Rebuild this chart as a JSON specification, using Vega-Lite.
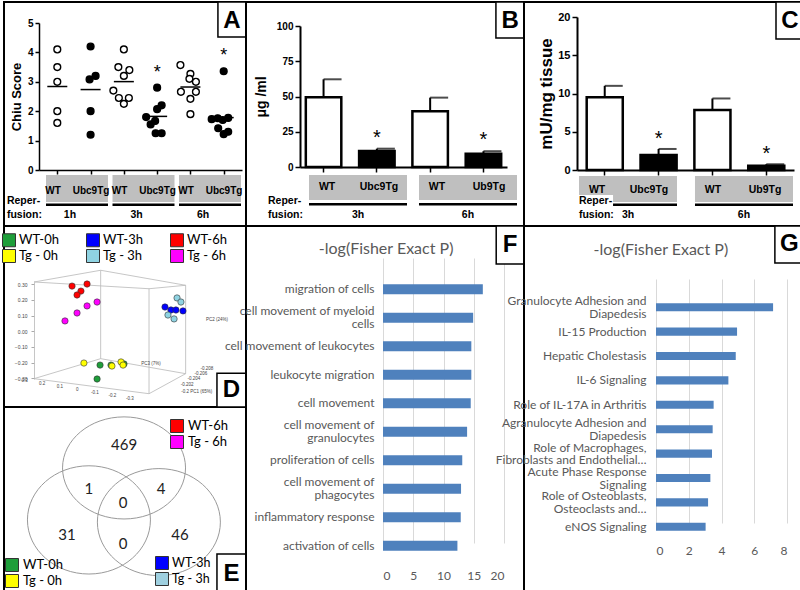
{
"$schema":"https://vega.github.io/schema/vega-lite/v6.json",
"padding":0,
"background":"white",
"columns":3,
"spacing":0,
"bounds":"flush",
"config":{
 "view":{"stroke":"black","strokeWidth":2,"fill":"white"},
 "font":"Liberation Sans",
 "axis":{"grid":false,"domainColor":"black","tickColor":"black","labelColor":"black","labelFont":"Liberation Sans","labelFontWeight":"bold","labelFontSize":10,"titleFont":"Liberation Sans","titleFontWeight":"bold","titleColor":"black","domainWidth":1.5,"tickWidth":1.5},
 "legend":{"padding":0,"offset":0},
 "text":{"font":"Liberation Sans","color":"black"}
},
"concat":[
{
 "width":242,"height":224,
 "resolve":{"scale":{"x":"independent","y":"independent"}},
 "layer":[
  {
   "data":{"values":[
    {"c":"1h WT","g":"WT","s":4.1,"j":0},{"c":"1h WT","g":"WT","s":3.5,"j":0},{"c":"1h WT","g":"WT","s":3.0,"j":0},{"c":"1h WT","g":"WT","s":2.0,"j":0},{"c":"1h WT","g":"WT","s":1.6,"j":0},
    {"c":"1h Ubc9Tg","g":"Tg","s":4.2,"j":0},{"c":"1h Ubc9Tg","g":"Tg","s":3.2,"j":0.5},{"c":"1h Ubc9Tg","g":"Tg","s":3.08,"j":-0.1},{"c":"1h Ubc9Tg","g":"Tg","s":2.0,"j":0},{"c":"1h Ubc9Tg","g":"Tg","s":1.2,"j":0},
    {"c":"3h WT","g":"WT","s":4.1,"j":0},{"c":"3h WT","g":"WT","s":3.5,"j":-0.55},{"c":"3h WT","g":"WT","s":3.4,"j":0.55},{"c":"3h WT","g":"WT","s":3.2,"j":0},{"c":"3h WT","g":"WT","s":2.7,"j":-1.05},{"c":"3h WT","g":"WT","s":2.45,"j":-0.5},{"c":"3h WT","g":"WT","s":2.45,"j":0.5},{"c":"3h WT","g":"WT","s":2.25,"j":0},
    {"c":"3h Ubc9Tg","g":"Tg","s":2.8,"j":0,"sig":"*"},{"c":"3h Ubc9Tg","g":"Tg","s":2.2,"j":0.45,"sig":"*"},{"c":"3h Ubc9Tg","g":"Tg","s":2.07,"j":0,"sig":"*"},{"c":"3h Ubc9Tg","g":"Tg","s":1.8,"j":-1.1,"sig":"*"},{"c":"3h Ubc9Tg","g":"Tg","s":1.67,"j":-0.2,"sig":"*"},{"c":"3h Ubc9Tg","g":"Tg","s":1.55,"j":-0.65,"sig":"*"},{"c":"3h Ubc9Tg","g":"Tg","s":1.25,"j":-0.15,"sig":"*"},{"c":"3h Ubc9Tg","g":"Tg","s":1.25,"j":0.45,"sig":"*"},
    {"c":"6h WT","g":"WT","s":3.57,"j":-1.0},{"c":"6h WT","g":"WT","s":3.27,"j":0},{"c":"6h WT","g":"WT","s":3.1,"j":-0.1},{"c":"6h WT","g":"WT","s":3.0,"j":0.55},{"c":"6h WT","g":"WT","s":2.66,"j":-0.95},{"c":"6h WT","g":"WT","s":2.66,"j":0.55},{"c":"6h WT","g":"WT","s":2.42,"j":0},{"c":"6h WT","g":"WT","s":1.9,"j":0},
    {"c":"6h Ubc9Tg","g":"Tg","s":3.36,"j":0,"sig":"*"},{"c":"6h Ubc9Tg","g":"Tg","s":1.73,"j":-1.2,"sig":"*"},{"c":"6h Ubc9Tg","g":"Tg","s":1.76,"j":-0.6,"sig":"*"},{"c":"6h Ubc9Tg","g":"Tg","s":1.7,"j":-0.1,"sig":"*"},{"c":"6h Ubc9Tg","g":"Tg","s":1.77,"j":0.45,"sig":"*"},{"c":"6h Ubc9Tg","g":"Tg","s":1.42,"j":-0.55,"sig":"*"},{"c":"6h Ubc9Tg","g":"Tg","s":1.22,"j":0,"sig":"*"},{"c":"6h Ubc9Tg","g":"Tg","s":1.3,"j":0.45,"sig":"*"}
   ]},
   "layer":[
    {"mark":{"type":"circle","size":46,"stroke":"black","strokeWidth":1.4,"opacity":1},
     "encoding":{
      "x":{"field":"c","type":"nominal","scale":{"type":"point","domain":["1h WT","1h Ubc9Tg","3h WT","3h Ubc9Tg","6h WT","6h Ubc9Tg"],"range":[35,238],"padding":0.55},"axis":{"orient":"bottom","offset":-56,"labels":false,"title":null,"tickSize":4}},
      "xOffset":{"field":"j","type":"quantitative","scale":{"domain":[-1,1],"range":[-10,10]}},
      "y":{"field":"s","type":"quantitative","scale":{"domain":[0,5],"range":[168,21],"nice":false,"zero":false},"axis":{"orient":"left","offset":-35,"values":[0,1,2,3,4,5],"tickSize":4,"labelPadding":2,"title":"Chiu Score","titleFontSize":13,"titlePadding":4}},
      "fill":{"field":"g","type":"nominal","scale":{"domain":["WT","Tg"],"range":["white","black"]},"legend":null}
     }},
    {"mark":{"type":"tick","size":20,"thickness":1.5,"color":"black"},
     "encoding":{"x":{"field":"c","type":"nominal"},"y":{"aggregate":"mean","field":"s","type":"quantitative"}}},
    {"transform":[{"filter":"datum.sig == '*'"}],
     "mark":{"type":"text","fontSize":18,"baseline":"middle","yOffset":-15},
     "encoding":{"x":{"field":"c","type":"nominal"},"y":{"aggregate":"max","field":"s","type":"quantitative"},"text":{"field":"sig"}}}
   ]
  },
  {
   "data":{"values":[{"t":"1h","g":"WT","lab":"WT"},{"t":"1h","g":"Tg","lab":"Ubc9Tg"},{"t":"3h","g":"WT","lab":"WT"},{"t":"3h","g":"Tg","lab":"Ubc9Tg"},{"t":"6h","g":"WT","lab":"WT"},{"t":"6h","g":"Tg","lab":"Ubc9Tg"}]},
   "layer":[
    {"transform":[{"filter":"datum.g == 'WT'"}],"mark":{"type":"rect","color":"#bfbfbf"},"encoding":{"x":{"field":"t","type":"nominal","bandPosition":0,"scale":{"type":"band","domain":["1h","3h","6h"],"range":[42,237],"paddingInner":0.068,"paddingOuter":0},"axis":null},"x2":{"field":"t","bandPosition":1},"y":{"datum":0.772,"type":"quantitative","scale":{"domain":[0,1],"range":[0,224]},"axis":null},"y2":{"datum":0.893}}},
    {"transform":[{"filter":"datum.g == 'WT'"}],"mark":{"type":"rect","color":"black"},"encoding":{"x":{"field":"t","type":"nominal","bandPosition":0},"x2":{"field":"t","bandPosition":1},"y":{"datum":0.899,"type":"quantitative"},"y2":{"datum":0.911}}},
    {"transform":[{"filter":"datum.g == 'WT'"}],"mark":{"type":"text","fontWeight":"bold","fontSize":10.5,"dx":-7},"encoding":{"x":{"field":"t","type":"nominal"},"y":{"datum":0.951,"type":"quantitative"},"text":{"field":"t"}}},
    {"transform":[{"filter":"datum.g == 'WT'"}],"mark":{"type":"text","fontWeight":"bold","fontSize":10},"encoding":{"x":{"field":"t","type":"nominal","bandPosition":0.113},"y":{"datum":0.844,"type":"quantitative"},"text":{"field":"lab"}}},
    {"transform":[{"filter":"datum.g == 'Tg'"}],"mark":{"type":"text","fontWeight":"bold","fontSize":10},"encoding":{"x":{"field":"t","type":"nominal","bandPosition":0.726},"y":{"datum":0.844,"type":"quantitative"},"text":{"field":"lab"}}}
   ]
  },
  {
   "data":{"values":[{}]},
   "layer":[
    {"mark":{"type":"text","text":"Reper-","align":"left","fontWeight":"bold","fontSize":10.5},"encoding":{"x":{"datum":0.012,"type":"quantitative","scale":{"domain":[0,1],"range":[0,242]},"axis":null},"y":{"datum":0.888,"type":"quantitative","scale":{"domain":[0,1],"range":[0,224]},"axis":null}}},
    {"mark":{"type":"text","text":"fusion:","align":"left","fontWeight":"bold","fontSize":10.5},"encoding":{"x":{"datum":0.012,"type":"quantitative"},"y":{"datum":0.951,"type":"quantitative"}}},
    {"mark":{"type":"rect","fill":"white","stroke":"black","strokeWidth":1.5},"encoding":{"x":{"datum":0.884,"type":"quantitative"},"x2":{"datum":1},"y":{"datum":0,"type":"quantitative"},"y2":{"datum":0.156}}},
    {"mark":{"type":"text","text":"A","fontWeight":"bold","fontSize":24},"encoding":{"x":{"datum":0.942,"type":"quantitative"},"y":{"datum":0.085,"type":"quantitative"}}}
   ]
  }
 ]
},
{
 "width":278,"height":224,
 "resolve":{"scale":{"x":"independent","y":"independent"}},
 "layer":[
  {
   "data":{"values":[
    {"c":"3h WT","g":"WT","v":49.5,"hi":62.2},
    {"c":"3h Ubc9Tg","g":"Tg","v":11.3,"hi":13,"sig":"*"},
    {"c":"6h WT","g":"WT","v":39.5,"hi":49.2},
    {"c":"6h Ub9Tg","g":"Tg","v":9.4,"hi":11.2,"sig":"*"}
   ]},
   "layer":[
    {"mark":{"type":"rule","strokeWidth":2,"color":"black"},"encoding":{
      "x":{"field":"c","type":"nominal","scale":{"type":"band","domain":["3h WT","3h Ubc9Tg","6h WT","6h Ub9Tg"],"range":[54,261],"paddingInner":0.334,"paddingOuter":0.109},"axis":{"orient":"bottom","offset":-59,"labels":false,"title":null,"tickSize":5,"domainWidth":2}},
      "y":{"field":"v","type":"quantitative","scale":{"domain":[0,100],"range":[165,24],"nice":false,"zero":false},"axis":{"orient":"left","offset":-54,"values":[0,25,50,75,100],"tickSize":5,"labelPadding":2,"title":"μg /ml","titleFontSize":14,"titlePadding":8,"domainWidth":2}},
      "y2":{"field":"hi"}}},
    {"mark":{"type":"tick","size":18,"thickness":2,"color":"black","xOffset":9},"encoding":{"x":{"field":"c","type":"nominal"},"y":{"field":"hi","type":"quantitative"}}},
    {"mark":{"type":"rect","stroke":"black","strokeWidth":2.5},"encoding":{"x":{"field":"c","type":"nominal","bandPosition":0},"x2":{"field":"c","bandPosition":1},"y":{"field":"v","type":"quantitative"},"y2":{"datum":0},
      "fill":{"field":"g","type":"nominal","scale":{"domain":["WT","Tg"],"range":["white","black"]},"legend":null}}},
    {"transform":[{"filter":"datum.sig == '*'"}],"mark":{"type":"text","fontSize":20,"yOffset":-11},"encoding":{"x":{"field":"c","type":"nominal"},"y":{"field":"hi","type":"quantitative"},"text":{"field":"sig"}}}
   ]
  },
  {
   "data":{"values":[{"t":"3h","g":"WT","lab":"WT"},{"t":"3h","g":"Tg","lab":"Ubc9Tg"},{"t":"6h","g":"WT","lab":"WT"},{"t":"6h","g":"Tg","lab":"Ub9Tg"}]},
   "layer":[
    {"transform":[{"filter":"datum.g == 'WT'"}],"mark":{"type":"rect","color":"#bfbfbf"},"encoding":{"x":{"field":"t","type":"nominal","bandPosition":0,"scale":{"type":"band","domain":["3h","6h"],"range":[63,271],"paddingInner":0.109,"paddingOuter":0},"axis":null},"x2":{"field":"t","bandPosition":1},"y":{"datum":0.772,"type":"quantitative","scale":{"domain":[0,1],"range":[0,224]},"axis":null},"y2":{"datum":0.884}}},
    {"transform":[{"filter":"datum.g == 'WT'"}],"mark":{"type":"rect","color":"black"},"encoding":{"x":{"field":"t","type":"nominal","bandPosition":0},"x2":{"field":"t","bandPosition":1},"y":{"datum":0.897,"type":"quantitative"},"y2":{"datum":0.908}}},
    {"transform":[{"filter":"datum.g == 'WT'"}],"mark":{"type":"text","fontWeight":"bold","fontSize":10.5},"encoding":{"x":{"field":"t","type":"nominal"},"y":{"datum":0.951,"type":"quantitative"},"text":{"field":"t"}}},
    {"transform":[{"filter":"datum.g == 'WT'"}],"mark":{"type":"text","fontWeight":"bold","fontSize":10.5},"encoding":{"x":{"field":"t","type":"nominal","bandPosition":0.184},"y":{"datum":0.826,"type":"quantitative"},"text":{"field":"lab"}}},
    {"transform":[{"filter":"datum.g == 'Tg'"}],"mark":{"type":"text","fontWeight":"bold","fontSize":10.5},"encoding":{"x":{"field":"t","type":"nominal","bandPosition":0.714},"y":{"datum":0.826,"type":"quantitative"},"text":{"field":"lab"}}}
   ]
  },
  {
   "data":{"values":[{}]},
   "layer":[
    {"mark":{"type":"text","text":"Reper-","align":"left","fontWeight":"bold","fontSize":10.5},"encoding":{"x":{"datum":0.079,"type":"quantitative","scale":{"domain":[0,1],"range":[0,278]},"axis":null},"y":{"datum":0.888,"type":"quantitative","scale":{"domain":[0,1],"range":[0,224]},"axis":null}}},
    {"mark":{"type":"text","text":"fusion:","align":"left","fontWeight":"bold","fontSize":10.5},"encoding":{"x":{"datum":0.079,"type":"quantitative"},"y":{"datum":0.951,"type":"quantitative"}}},
    {"mark":{"type":"rect","fill":"white","stroke":"black","strokeWidth":1.5},"encoding":{"x":{"datum":0.899,"type":"quantitative"},"x2":{"datum":1},"y":{"datum":0,"type":"quantitative"},"y2":{"datum":0.161}}},
    {"mark":{"type":"text","text":"B","fontWeight":"bold","fontSize":24},"encoding":{"x":{"datum":0.95,"type":"quantitative"},"y":{"datum":0.085,"type":"quantitative"}}}
   ]
  }
 ]
},
{
 "width":280,"height":224,
 "resolve":{"scale":{"x":"independent","y":"independent"}},
 "layer":[
  {
   "data":{"values":[
    {"c":"3h WT","g":"WT","v":9.5,"hi":11.0},
    {"c":"3h Ubc9Tg","g":"Tg","v":1.95,"hi":2.75,"sig":"*"},
    {"c":"6h WT","g":"WT","v":7.85,"hi":9.35},
    {"c":"6h Ub9Tg","g":"Tg","v":0.57,"hi":0.75,"sig":"*"}
   ]},
   "layer":[
    {"mark":{"type":"rule","strokeWidth":2,"color":"black"},"encoding":{
      "x":{"field":"c","type":"nominal","scale":{"type":"band","domain":["3h WT","3h Ubc9Tg","6h WT","6h Ub9Tg"],"range":[53,270],"paddingInner":0.33,"paddingOuter":0.18},"axis":{"orient":"bottom","offset":-56,"labels":false,"title":null,"tickSize":5,"domainWidth":2}},
      "y":{"field":"v","type":"quantitative","scale":{"domain":[0,20],"range":[168,15],"nice":false,"zero":false},"axis":{"orient":"left","offset":-53,"values":[0,5,10,15,20],"tickSize":5,"labelPadding":2,"labelFontSize":11,"title":"mU/mg tissue","titleFontSize":17,"titlePadding":2,"domainWidth":2}},
      "y2":{"field":"hi"}}},
    {"mark":{"type":"tick","size":18,"thickness":2,"color":"black","xOffset":9},"encoding":{"x":{"field":"c","type":"nominal"},"y":{"field":"hi","type":"quantitative"}}},
    {"mark":{"type":"rect","stroke":"black","strokeWidth":2.5},"encoding":{"x":{"field":"c","type":"nominal","bandPosition":0},"x2":{"field":"c","bandPosition":1},"y":{"field":"v","type":"quantitative"},"y2":{"datum":0},
      "fill":{"field":"g","type":"nominal","scale":{"domain":["WT","Tg"],"range":["white","black"]},"legend":null}}},
    {"transform":[{"filter":"datum.sig == '*'"}],"mark":{"type":"text","fontSize":20,"yOffset":-10},"encoding":{"x":{"field":"c","type":"nominal"},"y":{"field":"hi","type":"quantitative"},"text":{"field":"sig"}}}
   ]
  },
  {
   "data":{"values":[{"t":"3h","g":"WT","lab":"WT"},{"t":"3h","g":"Tg","lab":"Ubc9Tg"},{"t":"6h","g":"WT","lab":"WT"},{"t":"6h","g":"Tg","lab":"Ub9Tg"}]},
   "layer":[
    {"transform":[{"filter":"datum.g == 'WT'"}],"mark":{"type":"rect","color":"#bfbfbf"},"encoding":{"x":{"field":"t","type":"nominal","bandPosition":0,"scale":{"type":"band","domain":["3h","6h"],"range":[55,269],"paddingInner":0.155,"paddingOuter":0},"axis":null},"x2":{"field":"t","bandPosition":1},"y":{"datum":0.777,"type":"quantitative","scale":{"domain":[0,1],"range":[0,224]},"axis":null},"y2":{"datum":0.893}}},
    {"transform":[{"filter":"datum.g == 'WT'"}],"mark":{"type":"rect","color":"black"},"encoding":{"x":{"field":"t","type":"nominal","bandPosition":0},"x2":{"field":"t","bandPosition":1},"y":{"datum":0.9,"type":"quantitative"},"y2":{"datum":0.911}}},
    {"transform":[{"filter":"datum.g == 'WT'"}],"mark":{"type":"text","fontWeight":"bold","fontSize":10.5},"encoding":{"x":{"field":"t","type":"nominal"},"y":{"datum":0.951,"type":"quantitative"},"text":{"field":"t"}}},
    {"transform":[{"filter":"datum.g == 'WT'"}],"mark":{"type":"text","fontWeight":"bold","fontSize":10.5},"encoding":{"x":{"field":"t","type":"nominal","bandPosition":0.184},"y":{"datum":0.84,"type":"quantitative"},"text":{"field":"lab"}}},
    {"transform":[{"filter":"datum.g == 'Tg'"}],"mark":{"type":"text","fontWeight":"bold","fontSize":10.5},"encoding":{"x":{"field":"t","type":"nominal","bandPosition":0.714},"y":{"datum":0.84,"type":"quantitative"},"text":{"field":"lab"}}}
   ]
  },
  {
   "data":{"values":[{}]},
   "layer":[
    {"mark":{"type":"rect","fill":"white"},"encoding":{"x":{"datum":0.193,"type":"quantitative","scale":{"domain":[0,1],"range":[0,280]},"axis":null},"x2":{"datum":0.318},"y":{"datum":0.862,"type":"quantitative","scale":{"domain":[0,1],"range":[0,224]},"axis":null},"y2":{"datum":0.92}}},
    {"mark":{"type":"text","text":"Reper-","align":"left","fontWeight":"bold","fontSize":10.5},"encoding":{"x":{"datum":0.196,"type":"quantitative"},"y":{"datum":0.888,"type":"quantitative"}}},
    {"mark":{"type":"text","text":"fusion:","align":"left","fontWeight":"bold","fontSize":10.5},"encoding":{"x":{"datum":0.196,"type":"quantitative"},"y":{"datum":0.951,"type":"quantitative"}}},
    {"mark":{"type":"rect","fill":"white","stroke":"black","strokeWidth":1.5},"encoding":{"x":{"datum":0.9,"type":"quantitative"},"x2":{"datum":1},"y":{"datum":0,"type":"quantitative"},"y2":{"datum":0.165}}},
    {"mark":{"type":"text","text":"C","fontWeight":"bold","fontSize":24},"encoding":{"x":{"datum":0.95,"type":"quantitative"},"y":{"datum":0.085,"type":"quantitative"}}}
   ]
  }
 ]
},
{
 "width":242,"height":366,
 "resolve":{"scale":{"x":"independent","y":"independent","color":"independent"}},
 "layer":[
  {
   "layer":[
    {"data":{"values":[
      {"u":0,"v":0.315,"u2":0.426,"v2":0.39},
      {"u":0.426,"v":0.39,"u2":0.969,"v2":0.294},
      {"u":0.969,"v":0.294,"u2":0.735,"v2":0.272},
      {"u":0.735,"v":0.272,"u2":0,"v2":0.315},
      {"u":0,"v":-0.303,"u2":0.426,"v2":-0.175},
      {"u":0.426,"v":-0.175,"u2":0.969,"v2":-0.271},
      {"u":0.969,"v":-0.271,"u2":0.735,"v2":-0.399},
      {"u":0.735,"v":-0.399,"u2":0,"v2":-0.303},
      {"u":0.426,"v":0.39,"u2":0.426,"v2":-0.175},
      {"u":0.969,"v":0.294,"u2":0.969,"v2":-0.271},
      {"u":0.735,"v":0.272,"u2":0.735,"v2":-0.399}
     ]},
     "mark":{"type":"rule","color":"#b8b8b8","strokeWidth":0.8},
     "encoding":{
      "x":{"field":"u","type":"quantitative","scale":{"domain":[0,1.5],"range":[30,264.75],"nice":false,"zero":false},"axis":null},
      "y":{"field":"v","type":"quantitative","scale":{"domain":[-0.305,0.315],"range":[153,56],"nice":false,"zero":false},"axis":{"orient":"left","offset":-30,"values":[-0.3,-0.2,-0.1,0,0.1,0.2,0.3],"labelFontSize":5,"labelFontWeight":"normal","labelColor":"#444","tickSize":3,"tickColor":"#aaa","domainColor":"#b8b8b8","domainWidth":0.8,"tickWidth":1,"title":null,"labelPadding":4}},
      "x2":{"field":"u2"},"y2":{"field":"v2"}
     }},
    {"data":{"values":[
      {"t":"PC2 (24%)","u":1.17,"v":0.07},
      {"t":"PC3 (7%)","u":0.747,"v":-0.209},
      {"t":"0.3","u":-0.06,"v":-0.318},{"t":"0.2","u":0.052,"v":-0.337},{"t":"0.1","u":0.165,"v":-0.356},{"t":"0","u":0.277,"v":-0.375},{"t":"-0.1","u":0.389,"v":-0.393},{"t":"-0.2","u":0.501,"v":-0.412},{"t":"-0.3","u":0.613,"v":-0.431},
      {"t":"-0.208","u":1.105,"v":-0.239},{"t":"-0.206","u":1.067,"v":-0.271},{"t":"-0.204","u":1.022,"v":-0.303},{"t":"-0.202","u":0.978,"v":-0.345},{"t":"-0.2  PC1 (65%)","u":1.04,"v":-0.388}
     ]},
     "mark":{"type":"text","fontSize":4.5,"color":"#444","font":"Liberation Sans"},
     "encoding":{"x":{"field":"u","type":"quantitative"},"y":{"field":"v","type":"quantitative"},"text":{"field":"t"}}},
    {"data":{"values":[
      {"grp":"WT-6h","u":0.243,"v":0.289},{"grp":"WT-6h","u":0.339,"v":0.302},{"grp":"WT-6h","u":0.3,"v":0.257},{"grp":"WT-6h","u":0.275,"v":0.232},
      {"grp":"Tg - 6h","u":0.403,"v":0.187},{"grp":"Tg - 6h","u":0.339,"v":0.162},{"grp":"Tg - 6h","u":0.275,"v":0.117},{"grp":"Tg - 6h","u":0.198,"v":0.066},
      {"grp":"WT-3h","u":0.837,"v":0.155},{"grp":"WT-3h","u":0.875,"v":0.136},{"grp":"WT-3h","u":0.907,"v":0.136},{"grp":"WT-3h","u":0.952,"v":0.13},
      {"grp":"Tg - 3h","u":0.914,"v":0.213},{"grp":"Tg - 3h","u":0.939,"v":0.187},{"grp":"Tg - 3h","u":0.856,"v":0.104},{"grp":"Tg - 3h","u":0.895,"v":0.079},
      {"grp":"WT-0h","u":0.422,"v":-0.216},{"grp":"WT-0h","u":0.492,"v":-0.216},{"grp":"WT-0h","u":0.403,"v":-0.305},{"grp":"WT-0h","u":0.575,"v":-0.209},
      {"grp":"Tg - 0h","u":0.319,"v":-0.203},{"grp":"Tg - 0h","u":0.498,"v":-0.222},{"grp":"Tg - 0h","u":0.556,"v":-0.196},{"grp":"Tg - 0h","u":0.569,"v":-0.216}
     ]},
     "mark":{"type":"circle","size":40,"stroke":"#333","strokeWidth":0.6,"opacity":1},
     "encoding":{
      "x":{"field":"u","type":"quantitative"},
      "y":{"field":"v","type":"quantitative"},
      "color":{"field":"grp","type":"nominal","scale":{"domain":["WT-0h","Tg - 0h","WT-3h","Tg - 3h","WT-6h","Tg - 6h"],"range":["#1e9e3a","#ffff00","#0000ff","#8fd3e2","#ff0000","#ff00ff"]},
       "legend":{"orient":"none","legendX":-2,"legendY":7,"columns":3,"title":null,"symbolType":"square","symbolSize":169,"symbolStrokeColor":"#333","symbolStrokeWidth":1,"symbolOpacity":1,"labelFont":"Lato","labelFontSize":13,"labelColor":"black","columnPadding":25,"rowPadding":-5,"labelOffset":3}}
     }}
   ]
  },
  {
   "layer":[
    {"data":{"values":[{}]},"mark":{"type":"rect","fillOpacity":0,"stroke":"black","strokeWidth":2},
     "encoding":{"x":{"datum":0,"type":"quantitative","scale":{"domain":[0,1],"range":[0,242]},"axis":null},"x2":{"datum":1},"y":{"datum":0.4945,"type":"quantitative","scale":{"domain":[0,1],"range":[0,366]},"axis":null},"y2":{"datum":1}}},
    {"data":{"values":[{"set":"6h","x":0.496,"y":0.661},{"set":"0h","x":0.351,"y":0.803},{"set":"3h","x":0.64,"y":0.809}]},
     "mark":{"type":"point","filled":false,"color":"#9a9a9a","strokeWidth":1,"size":15129,"opacity":1},
     "encoding":{
      "x":{"field":"x","type":"quantitative"},
      "y":{"field":"y","type":"quantitative"},
      "shape":{"field":"set","type":"nominal","scale":{"domain":["6h","0h","3h"],"range":["M-1,0A1,0.83,0,1,1,1,0A1,0.83,0,1,1,-1,0Z","M-1,0A1,0.88,0,1,1,1,0A1,0.88,0,1,1,-1,0Z","M-1,0A1,0.87,0,1,1,1,0A1,0.87,0,1,1,-1,0Z"]},"legend":null}
     }},
    {"data":{"values":[{"n":"469","x":0.496,"y":0.598},{"n":"1","x":0.351,"y":0.719},{"n":"4","x":0.649,"y":0.719},{"n":"0","x":0.492,"y":0.757},{"n":"31","x":0.26,"y":0.844},{"n":"0","x":0.492,"y":0.869},{"n":"46","x":0.727,"y":0.844}]},
     "mark":{"type":"text","font":"Lato","fontSize":15,"color":"#222"},
     "encoding":{"x":{"field":"x","type":"quantitative"},"y":{"field":"y","type":"quantitative"},"text":{"field":"n"}}},
    {"data":{"values":[{}]},"mark":{"type":"rect","fill":"white","stroke":"black","strokeWidth":1.5},
     "encoding":{"x":{"datum":0.88,"type":"quantitative"},"x2":{"datum":1},"y":{"datum":0.402,"type":"quantitative"},"y2":{"datum":0.4945}}},
    {"data":{"values":[{}]},"mark":{"type":"text","text":"D","fontWeight":"bold","fontSize":24},
     "encoding":{"x":{"datum":0.94,"type":"quantitative"},"y":{"datum":0.448,"type":"quantitative"}}},
    {"data":{"values":[{}]},"mark":{"type":"rect","fill":"white","stroke":"black","strokeWidth":1.5},
     "encoding":{"x":{"datum":0.88,"type":"quantitative"},"x2":{"datum":1},"y":{"datum":0.896,"type":"quantitative"},"y2":{"datum":1}}},
    {"data":{"values":[{}]},"mark":{"type":"text","text":"E","fontWeight":"bold","fontSize":24},
     "encoding":{"x":{"datum":0.94,"type":"quantitative"},"y":{"datum":0.951,"type":"quantitative"}}}
   ]
  },
  {"data":{"values":[{"g":"WT-6h"},{"g":"Tg - 6h"}]},
   "mark":{"type":"square","opacity":0},
   "encoding":{"x":{"datum":0.5,"type":"quantitative","axis":null},"y":{"datum":0.5,"type":"quantitative","axis":null},
    "color":{"field":"g","type":"nominal","scale":{"domain":["WT-6h","Tg - 6h"],"range":["#ff0000","#ff00ff"]},
     "legend":{"orient":"none","legendX":166,"legendY":193,"title":null,"symbolType":"square","symbolSize":169,"symbolStrokeColor":"#333","symbolStrokeWidth":1,"symbolOpacity":1,"labelFont":"Lato","labelFontSize":13,"labelColor":"black","rowPadding":-5,"labelOffset":4}}}},
  {"data":{"values":[{"g":"WT-0h"},{"g":"Tg - 0h"}]},
   "mark":{"type":"square","opacity":0},
   "encoding":{"x":{"datum":0.5,"type":"quantitative","axis":null},"y":{"datum":0.5,"type":"quantitative","axis":null},
    "color":{"field":"g","type":"nominal","scale":{"domain":["WT-0h","Tg - 0h"],"range":["#1e9e3a","#ffff00"]},
     "legend":{"orient":"none","legendX":1,"legendY":332,"title":null,"symbolType":"square","symbolSize":169,"symbolStrokeColor":"#333","symbolStrokeWidth":1,"symbolOpacity":1,"labelFont":"Lato","labelFontSize":13,"labelColor":"black","rowPadding":-5,"labelOffset":4}}}},
  {"data":{"values":[{"g":"WT-3h"},{"g":"Tg - 3h"}]},
   "mark":{"type":"square","opacity":0},
   "encoding":{"x":{"datum":0.5,"type":"quantitative","axis":null},"y":{"datum":0.5,"type":"quantitative","axis":null},
    "color":{"field":"g","type":"nominal","scale":{"domain":["WT-3h","Tg - 3h"],"range":["#0000ff","#9fd0e0"]},
     "legend":{"orient":"none","legendX":151,"legendY":330,"title":null,"symbolType":"square","symbolSize":169,"symbolStrokeColor":"#333","symbolStrokeWidth":1,"symbolOpacity":1,"labelFont":"Lato","labelFontSize":12.5,"labelColor":"black","rowPadding":-5,"labelOffset":3}}}}
 ]
},
{
 "width":278,"height":366,
 "resolve":{"scale":{"x":"independent","y":"independent"}},
 "layer":[
  {
   "data":{"values":[
    {"term":"migration of cells","v":16.5},
    {"term":"cell movement of myeloid|cells","v":14.9},
    {"term":"cell movement of leukocytes","v":14.6},
    {"term":"leukocyte migration","v":14.6},
    {"term":"cell movement","v":14.5},
    {"term":"cell movement of|granulocytes","v":13.9},
    {"term":"proliferation of cells","v":13.1},
    {"term":"cell movement of|phagocytes","v":12.9},
    {"term":"inflammatory response","v":12.85},
    {"term":"activation of cells","v":12.3}
   ]},
   "mark":{"type":"bar","color":"#4f81bd"},
   "encoding":{
    "x":{"field":"v","type":"quantitative","scale":{"domain":[0,20],"range":[137,258],"nice":false,"zero":false},"axis":{"orient":"bottom","offset":-32,"values":[0,5,10,15,20],"grid":true,"gridColor":"#d9d9d9","gridWidth":1,"domain":false,"ticks":false,"labelFont":"Lato","labelFontWeight":"normal","labelFontSize":12,"labelColor":"#595959","labelPadding":10,"title":null}},
    "y":{"field":"term","type":"nominal","sort":null,"scale":{"domain":["migration of cells","cell movement of myeloid|cells","cell movement of leukocytes","leukocyte migration","cell movement","cell movement of|granulocytes","proliferation of cells","cell movement of|phagocytes","inflammatory response","activation of cells"],"range":[49,334],"paddingInner":0.65,"paddingOuter":0.325},"axis":{"orient":"left","offset":-137,"domain":false,"ticks":false,"labelFont":"Lato","labelFontWeight":"normal","labelFontSize":12,"labelColor":"#595959","labelPadding":9,"labelExpr":"split(datum.label, '|')","labelLineHeight":13,"labelOffset":{"condition":{"test":"indexof(datum.value, '|') >= 0","value":-6.5},"value":0},"labelLimit":0,"title":null}}
   }
  },
  {
   "data":{"values":[{}]},
   "layer":[
    {"mark":{"type":"text","text":"-log(Fisher Exact P)","font":"Lato","fontSize":16,"color":"#595959"},"encoding":{"x":{"datum":0.504,"type":"quantitative","scale":{"domain":[0,1],"range":[0,278]},"axis":null},"y":{"datum":0.063,"type":"quantitative","scale":{"domain":[0,1],"range":[0,366]},"axis":null}}},
    {"mark":{"type":"rect","fill":"white","stroke":"black","strokeWidth":1.5},"encoding":{"x":{"datum":0.9,"type":"quantitative"},"x2":{"datum":1},"y":{"datum":0,"type":"quantitative"},"y2":{"datum":0.104}}},
    {"mark":{"type":"text","text":"F","fontWeight":"bold","fontSize":24},"encoding":{"x":{"datum":0.95,"type":"quantitative"},"y":{"datum":0.053,"type":"quantitative"}}}
   ]
  }
 ]
},
{
 "width":280,"height":366,
 "resolve":{"scale":{"x":"independent","y":"independent"}},
 "layer":[
  {
   "data":{"values":[
    {"term":"Granulocyte Adhesion and|Diapedesis","v":7.15},
    {"term":"IL-15 Production","v":4.95},
    {"term":"Hepatic Cholestasis","v":4.87},
    {"term":"IL-6 Signaling","v":4.42},
    {"term":"Role of IL-17A in Arthritis","v":3.52},
    {"term":"Agranulocyte Adhesion and|Diapedesis","v":3.46},
    {"term":"Role of Macrophages,|Fibroblasts and Endothelial…","v":3.42},
    {"term":"Acute Phase Response|Signaling","v":3.32},
    {"term":"Role of Osteoblasts,|Osteoclasts and…","v":3.18},
    {"term":"eNOS Signaling","v":3.03}
   ]},
   "mark":{"type":"bar","color":"#4f81bd"},
   "encoding":{
    "x":{"field":"v","type":"quantitative","scale":{"domain":[0,8],"range":[132,263],"nice":false,"zero":false},"axis":{"orient":"bottom","offset":-53,"values":[0,2,4,6,8],"grid":true,"gridColor":"#d9d9d9","gridWidth":1,"domain":false,"ticks":false,"labelFont":"Lato","labelFontWeight":"normal","labelFontSize":12,"labelColor":"#595959","labelPadding":6,"title":null}},
    "y":{"field":"term","type":"nominal","sort":null,"scale":{"domain":["Granulocyte Adhesion and|Diapedesis","IL-15 Production","Hepatic Cholestasis","IL-6 Signaling","Role of IL-17A in Arthritis","Agranulocyte Adhesion and|Diapedesis","Role of Macrophages,|Fibroblasts and Endothelial…","Acute Phase Response|Signaling","Role of Osteoblasts,|Osteoclasts and…","eNOS Signaling"],"range":[69,313],"paddingInner":0.67,"paddingOuter":0.335},"axis":{"orient":"left","offset":-132,"domain":false,"ticks":false,"labelFont":"Lato","labelFontWeight":"normal","labelFontSize":12,"labelColor":"#595959","labelPadding":10,"labelExpr":"split(datum.label, '|')","labelLineHeight":12.5,"labelOffset":{"condition":{"test":"indexof(datum.value, '|') >= 0","value":-6},"value":0},"labelLimit":0,"title":null}}
   }
  },
  {
   "data":{"values":[{}]},
   "layer":[
    {"mark":{"type":"text","text":"-log(Fisher Exact P)","font":"Lato","fontSize":16,"color":"#595959"},"encoding":{"x":{"datum":0.489,"type":"quantitative","scale":{"domain":[0,1],"range":[0,280]},"axis":null},"y":{"datum":0.066,"type":"quantitative","scale":{"domain":[0,1],"range":[0,366]},"axis":null}}},
    {"mark":{"type":"rect","fill":"white","stroke":"black","strokeWidth":1.5},"encoding":{"x":{"datum":0.896,"type":"quantitative"},"x2":{"datum":1},"y":{"datum":0,"type":"quantitative"},"y2":{"datum":0.101}}},
    {"mark":{"type":"text","text":"G","fontWeight":"bold","fontSize":24},"encoding":{"x":{"datum":0.948,"type":"quantitative"},"y":{"datum":0.05,"type":"quantitative"}}}
   ]
  }
 ]
}
]
}
